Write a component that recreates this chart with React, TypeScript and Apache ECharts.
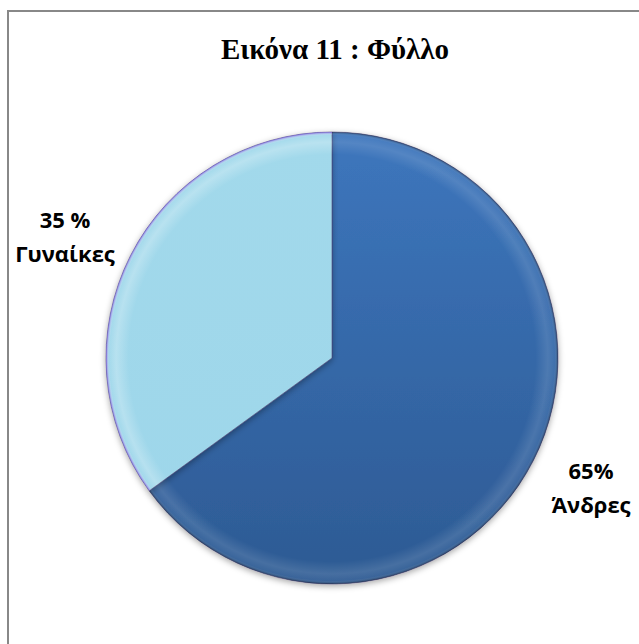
import React, { useEffect, useRef } from "react";
import * as echarts from "echarts";

const titleText = "Εικόνα 11 : Φύλλο";
const categories = ["Άνδρες", "Γυναίκες"];
const values = [65, 35];
const percentSeparators = ["", " "];
const sliceColors = [
  ["#3d76bd", "#2d5a93"],
  ["#a2d9eb", "#9dd6ea"],
];
const labelCenters = [
  [591, 487],
  [65, 236],
];

export default function App() {
  const ref = useRef<HTMLDivElement>(null);
  useEffect(() => {
    if (!ref.current) return;
    const chart = echarts.init(ref.current, undefined, { renderer: "svg" });
    const cx = 332;
    const cy = 358;
    const R = 226;
    const data = categories.map((name, i) => ({
      name,
      value: values[i],
      itemStyle: {
        color: new echarts.graphic.LinearGradient(0, cy - R, 0, cy + R, [
          { offset: 0, color: sliceColors[i][0] },
          { offset: 1, color: sliceColors[i][1] },
        ], true),
      },
    }));
    const overlay = categories.map((name, i) => ({
      name,
      value: values[i],
      itemStyle: {
        color: new echarts.graphic.RadialGradient(cx, cy, R, [
          { offset: 0, color: "rgba(255,255,255,0)" },
          { offset: 0.9, color: "rgba(255,255,255,0)" },
          { offset: 0.955, color: i === 0 ? "rgba(255,255,255,0.12)" : "rgba(255,255,255,0.25)" },
          { offset: 0.985, color: "rgba(255,255,255,0.06)" },
          { offset: 1, color: i === 0 ? "rgba(0,0,0,0.35)" : "rgba(120,80,220,0.8)" },
        ], true),
      },
    }));
    chart.setOption({
      animation: false,
      backgroundColor: "#ffffff",
      title: {
        text: titleText,
        left: 330,
        top: 29,
        textAlign: "center",
        textStyle: {
          fontFamily: "Liberation Serif",
          fontWeight: "bold",
          fontSize: 29,
          color: "#000000",
        },
      },
      graphic: [
        {
          type: "rect",
          shape: { x: 8, y: 11, width: 700, height: 700 },
          style: { fill: "none", stroke: "#888888", lineWidth: 2 },
          silent: true,
        },
      ],
      series: [
        {
          type: "pie",
          center: [cx, cy],
          radius: [0, R],
          startAngle: 90,
          clockwise: true,
          data,
          itemStyle: {
            borderColor: "rgba(70,60,110,0.55)",
            borderWidth: 1,
            shadowBlur: 6,
            shadowOffsetY: 2,
            shadowColor: "rgba(0,0,0,0.35)",
          },
          label: {
            show: true,
            position: "outside",
            alignTo: "none",
            overflow: "none",
            width: 200,
            formatter: (p: any) => `${p.value}${percentSeparators[p.dataIndex]}%\n${p.name}`,
            fontFamily: "Open Sans",
            fontWeight: "bold",
            fontSize: 22,
            lineHeight: 34,
            color: "#000000",
            align: "center",
          },
          labelLine: { show: false },
          labelLayout: (params: any) => ({
            x: labelCenters[params.dataIndex][0],
            y: labelCenters[params.dataIndex][1],
            align: "center",
            verticalAlign: "middle",
          }),
          emphasis: { disabled: true },
        },
        {
          type: "pie",
          center: [cx, cy],
          radius: [0, R],
          startAngle: 90,
          clockwise: true,
          silent: true,
          data: overlay,
          label: { show: false },
          labelLine: { show: false },
          emphasis: { disabled: true },
        },
      ],
    });
    return () => chart.dispose();
  }, []);
  return (
    <div
      ref={ref}
      style={{ position: "fixed", left: 0, top: 0, width: 639, height: 644 }}
    />
  );
}
